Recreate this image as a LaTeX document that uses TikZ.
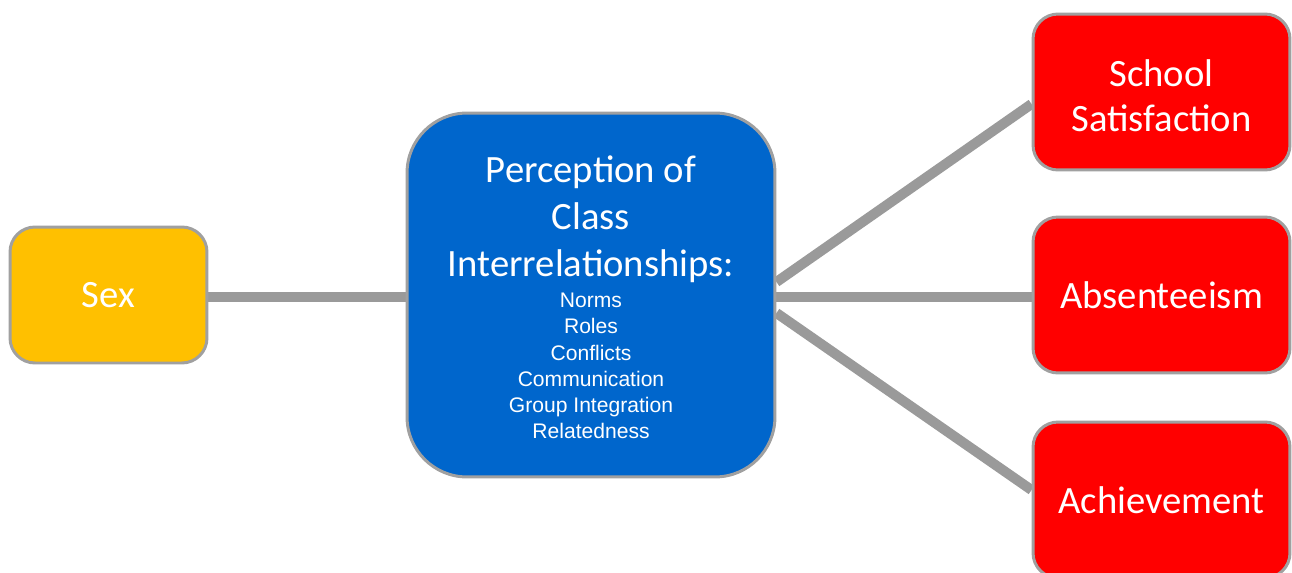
\documentclass[tikz,border=0pt]{standalone}
\usepackage{fontspec}
\usetikzlibrary{backgrounds}
\setmainfont{Carlito}
\newfontfamily\smallsans{Liberation Sans}
\definecolor{linkgray}{HTML}{9A9A9A}
\definecolor{edgegray}{HTML}{A0A0A0}
\definecolor{boxyellow}{HTML}{FFC000}
\definecolor{boxblue}{HTML}{0066CC}
\definecolor{boxred}{HTML}{FF0000}
\newcommand{\bigtext}{\fontsize{22}{25.5}\selectfont}
\begin{document}
\begin{tikzpicture}[x=0.02cm,y=-0.02cm,
  box/.style={draw=edgegray,line width=1.7pt,rounded corners=0.5cm,
    text=white,align=center,inner sep=0pt,font=\bigtext},
  sexbox/.style={box,fill=boxyellow,minimum width=3.94cm,minimum height=2.72cm},
  mainbox/.style={box,fill=boxblue,rounded corners=1.2cm,
    minimum width=7.36cm,minimum height=7.28cm},
  outbox/.style={box,fill=boxred,minimum width=5.14cm,minimum height=3.12cm},
  boxtext/.style={text=white,align=center,inner sep=0pt},
  link/.style={draw=linkgray,line width=5.7pt}]
\useasboundingbox (0,0) rectangle (1292,572);

\node[sexbox] (sex) at (108.5,295) {Sex};
\node[mainbox] (pci) at (591,295) {};
\node[boxtext,font=\fontsize{22}{26.65}\selectfont] (pcititle) at (591,219)
  {Perception of\\Class\\Interrelationships:};
\node[boxtext,font=\smallsans\fontsize{12}{14.86}\selectfont] (pcilist) at (591,366)
  {Norms\\Roles\\Conflicts\\Communication\\Group Integration\\Relatedness};
\node[outbox] (sat) at (1161.5,92) {};
\node[boxtext,font=\bigtext] (sattext) at (1161.5,96) {School\\Satisfaction};
\node[outbox] (abs) at (1161.5,295) {Absenteeism};
\node[outbox] (ach) at (1161.5,500) {Achievement};

% connectors sit behind the boxes
\begin{scope}[on background layer]
  \draw[link] ([yshift=-0.04cm]sex.east) -- ([yshift=-0.04cm]pci.west |- sex.east);
  \draw[link] ([yshift=0.26cm]pci.east) -- ([yshift=-0.24cm]sat.west);
  \draw[link] ([yshift=-0.04cm]pci.east) -- ([yshift=-0.04cm]abs.west);
  \draw[link] ([yshift=-0.36cm]pci.east) -- ([yshift=0.2cm]ach.west);
\end{scope}
\end{tikzpicture}
\end{document}
